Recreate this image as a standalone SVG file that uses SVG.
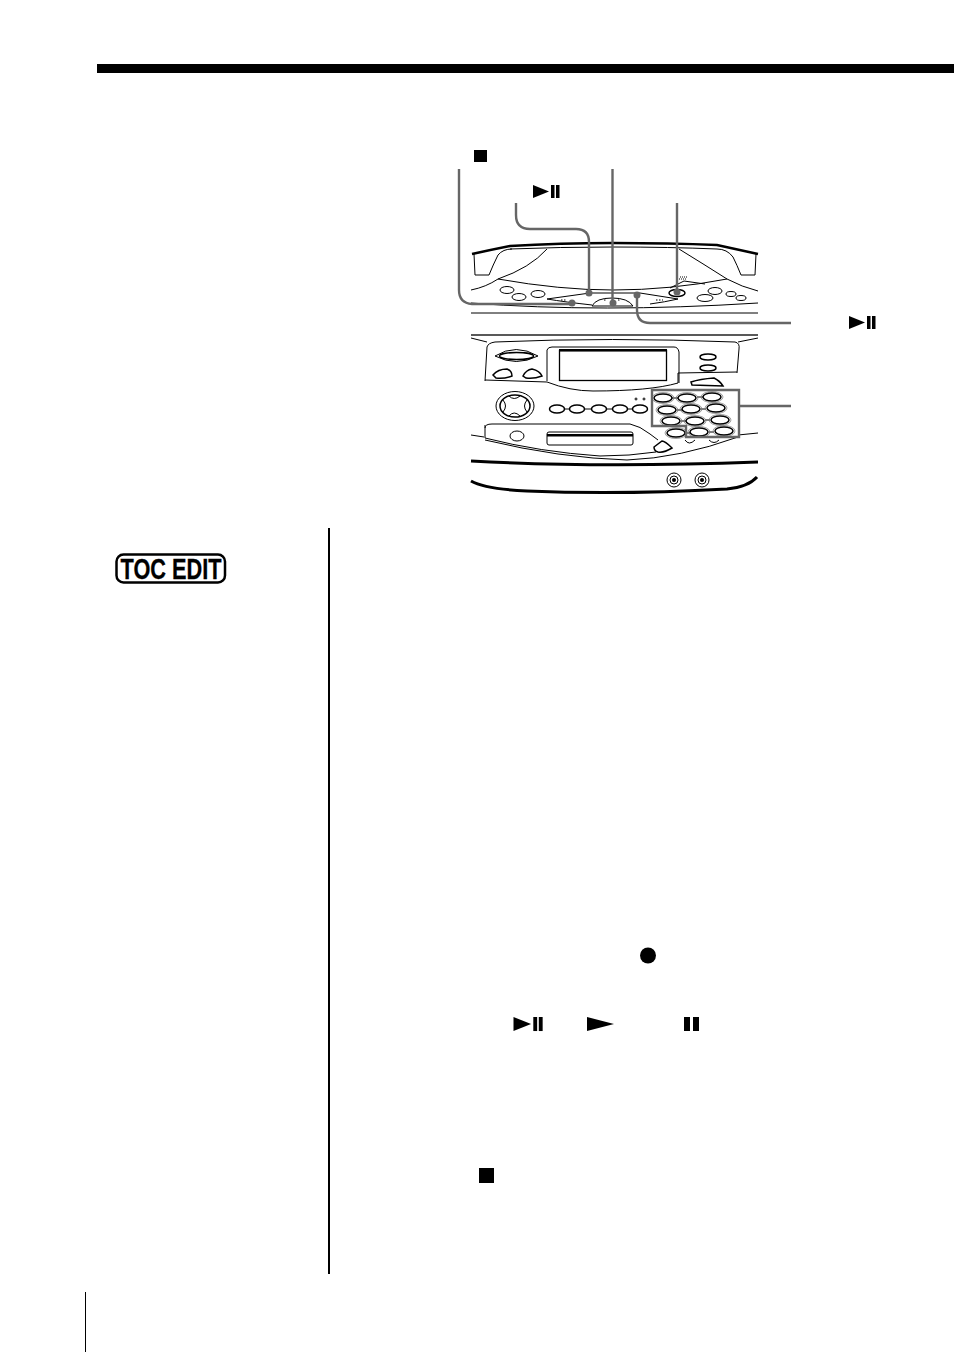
<svg xmlns="http://www.w3.org/2000/svg" width="954" height="1352" viewBox="0 0 954 1352">
<style>
.d{fill:none;stroke:#000;stroke-width:1}
.h{fill:none;stroke:#000;stroke-width:1.5}
.b{fill:#fff;stroke:#000;stroke-width:1.5}
.o{fill:none;stroke:#777;stroke-width:.7}
.t{fill:none;stroke:#000;stroke-width:2.5}
.k{fill:none;stroke:#000;stroke-width:3}
.c{fill:none;stroke:#666;stroke-width:2.4}
.g{fill:#666}
.s{fill:#000}
</style>
<defs>
<g id="pp"><path class="s" d="M0 0L16 6.500L0 13Z"/><rect class="s" x="18" y="0" width="3.500" height="13"/><rect class="s" x="23" y="0" width="3.500" height="13"/></g>
<g id="key"><ellipse class="o" rx="11" ry="5.500"/><ellipse class="b" rx="9" ry="4"/></g>
<g id="small"><ellipse class="b" rx="7.500" ry="4"/></g>
</defs>
<rect id="top-bar" x="97" y="64" width="857" height="9" fill="#000"/>
<rect id="side-rule" x="328" y="528" width="2" height="746" fill="#000"/>
<rect id="foot-rule" x="85" y="1292" width="1" height="60" fill="#000"/>
<g id="toc-edit">
<rect x="116.500" y="554.500" width="108.500" height="28" rx="7" fill="#fff" stroke="#000" stroke-width="2.500"/>
<text x="120.500" y="579" font-family="Liberation Sans, sans-serif" font-weight="700" font-size="29" textLength="101" lengthAdjust="spacingAndGlyphs" stroke="#000" stroke-width=".3">TOC EDIT</text>
</g>
<g id="device-top">
<path class="t" d="M472 254Q490 250 510 246Q560 243 613 243Q670 243 717 245Q740 250 758 254"/>
<path class="d" d="M510 249Q560 247 613 247Q670 247 717 249"/>
<path class="d" d="M474 254L475 275L489 275Q493 265 498 255Q503 249 512 249"/>
<path class="d" d="M756 254L755 275L741 275Q737 265 733 257Q727 249 717 249"/>
<path class="d" d="M498 279Q530 268 547 249M679 249Q705 265 727 279"/>
<path class="d" d="M498 279Q560 290 613 290Q670 290 727 279"/>
<path class="d" d="M471 290Q486 287 498 279M727 279Q742 287 758 291"/>
<path class="d" d="M670 288L684 281L705 284"/>
<path class="d" d="M679 279h7M680 277h7" stroke-dasharray="1 1"/>
<ellipse class="d" cx="507" cy="290" rx="7" ry="3.500"/>
<ellipse class="d" cx="519" cy="297" rx="7" ry="3.500"/>
<ellipse class="d" cx="538" cy="294" rx="7" ry="3.500"/>
<path class="d" d="M547 299L590 293H640L678 299Q665 302 650 304M547 299Q565 302 592 305"/>
<path class="d" d="M592 306Q596 298 612 298Q628 298 633 306Z"/>
<path class="d" d="M561 300h6M656 300h7M604 300h2M618 300h2" stroke-dasharray="1.500 1.500"/>
<ellipse class="h" cx="677" cy="293" rx="8" ry="3.500"/>
<ellipse class="d" cx="715" cy="291" rx="7" ry="3.500"/>
<ellipse class="d" cx="705" cy="298" rx="8" ry="3.500"/>
<ellipse class="d" cx="731" cy="294" rx="5" ry="2.500"/>
<ellipse class="d" cx="741" cy="298" rx="5" ry="2.500"/>
<path class="d" d="M471 313H758"/>
<path class="d" d="M471 303Q600 313 758 303"/>
<path d="M471 335H758" stroke="#222" stroke-width="1.300"/>
</g>
<g id="device-panel">
<path class="d" d="M471 338L487 342M738 342L758 338"/>
<path class="d" d="M485 381L487 347Q488 343 495 342Q610 337 735 342Q740 343 739 349L737 373"/>
<path class="d" d="M485 380L547 382Q570 391 593 391Q650 391 678 383V373L737 372"/>
<path class="d" d="M547 350Q548 347 552 347H674Q678 347 679 352V383M547 350V381"/>
<rect x="559.500" y="350.500" width="107" height="30" fill="none" stroke="#000" stroke-width="1.300"/>
<rect x="559" y="349" width="108" height="2.500" fill="#000"/>
<path class="d" d="M495 356Q516 343 538 356Q516 367 495 356Z"/>
<ellipse class="h" cx="516.500" cy="356" rx="17" ry="3.500"/>
<path class="h" d="M493 375Q498 369 507 369Q512 371 512 376Q504 379 496 378Z"/>
<path class="h" d="M523 376Q526 370 532 369Q540 371 542 376Q534 379 526 378Z"/>
<ellipse class="h" cx="708" cy="357" rx="8" ry="3"/>
<ellipse class="h" cx="708" cy="368" rx="8" ry="3"/>
<path class="h" d="M691 382Q700 379 714 378Q720 381 723 386L692 385Z"/>
<ellipse class="d" cx="515" cy="406" rx="19" ry="14.500"/>
<ellipse class="h" cx="515" cy="406" rx="15" ry="11"/>
<path class="d" d="M509 396Q514 401 520 396M509 416Q514 410 520 416M503 400Q508 406 503 412M527 400Q522 406 527 412"/>
<use href="#small" x="557" y="409"/><use href="#small" x="577" y="409"/><use href="#small" x="599" y="409"/><use href="#small" x="620" y="409"/><use href="#small" x="640" y="409"/>
<path class="d" d="M564 409h6M585 409h7M607 409h6M628 409h5"/>
<circle class="d" cx="636" cy="399" r="1"/><circle class="d" cx="644" cy="399" r="1"/>
<path class="d" d="M672 398h6M697 397h6M677 410h5M701 409h5M681 421h5M705 420h5M685 433h5M709 432h5"/>
<use href="#key" x="663" y="398"/><use href="#key" x="687" y="398"/><use href="#key" x="712" y="397"/>
<use href="#key" x="667" y="410"/><use href="#key" x="691" y="409"/><use href="#key" x="716" y="408"/>
<use href="#key" x="671" y="421"/><use href="#key" x="695" y="421"/><use href="#key" x="720" y="420"/>
<use href="#key" x="676" y="433"/><use href="#key" x="699" y="432"/><use href="#key" x="724" y="431"/>
<path class="d" d="M471 435L484 437M738 435L758 433"/>
<path class="d" d="M485 428Q485 424 492 424H630Q640 426 650 434L658 440"/>
<path class="d" d="M485 425V438Q540 452 600 456Q630 456 656 452"/>
<path class="d" d="M485 440Q560 458 627 460Q680 458 738 437"/>
<ellipse class="d" cx="517" cy="436" rx="7" ry="5"/>
<rect class="d" x="547" y="432" width="86" height="13" rx="2"/>
<rect x="547" y="434" width="86" height="2.500" fill="#000"/>
<path class="h" d="M654 447L662 441Q665 441 672 448Q664 453 658 452Q654 451 654 447Z"/>
<path class="d" d="M685 440Q689 446 695 440M709 440Q714 445 719 440"/>
<path class="k" d="M471 461Q600 468 758 462"/>
<path class="k" d="M471 481Q485 489 527 491Q620 495 727 489Q748 487 757 477"/>
<circle class="d" cx="674" cy="480" r="7"/><circle class="d" cx="674" cy="480" r="4"/><circle cx="674" cy="480" r="2" fill="#000"/>
<circle class="d" cx="702" cy="480" r="7"/><circle class="d" cx="702" cy="480" r="4"/><circle cx="702" cy="480" r="2" fill="#000"/>
</g>
<g id="connectors">
<path class="c" d="M459 169V290Q459 303 472 304H572"/><circle class="g" cx="572" cy="303" r="3.500"/>
<path class="c" d="M612.500 169V303"/><circle class="g" cx="613" cy="303" r="3.500"/>
<path class="c" d="M516 203V215Q516 229 530 229H576Q589 229 589 242V293"/><circle class="g" cx="589" cy="293" r="3.500"/>
<path class="c" d="M677 203V292"/><circle class="g" cx="677" cy="292" r="3.500"/>
<path class="c" d="M637 295V310Q637 323 650 323H791"/><circle class="g" cx="637" cy="295" r="3.500"/>
<path class="c" d="M652 390H739V437H686V426H652Z" stroke-width="2.700"/>
<path class="c" d="M740 406H791"/>
</g>
<g id="symbols">
<rect class="s" x="474" y="150" width="13" height="12"/>
<use href="#pp" x="533" y="185"/>
<use href="#pp" x="849" y="316"/>
<circle class="s" cx="648" cy="955.500" r="8"/>
<use href="#pp" transform="translate(513.500 1017) scale(1.100 1.080)"/>
<path class="s" d="M587 1017L614 1024L587 1031Z"/>
<rect class="s" x="684" y="1017" width="6" height="14"/><rect class="s" x="693" y="1017" width="6" height="14"/>
<rect class="s" x="479" y="1168" width="15" height="15"/>
</g>
</svg>
